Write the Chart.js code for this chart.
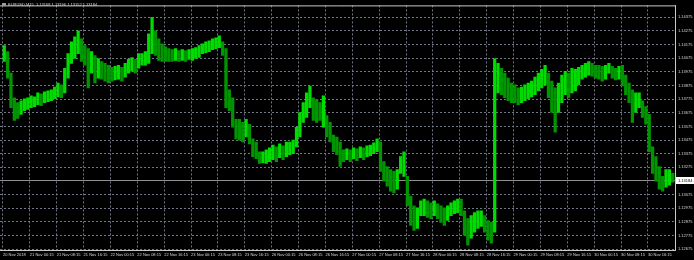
<!DOCTYPE html>
<html>
<head>
<meta charset="utf-8">
<title>EURUSD,M15</title>
<script src="https://cdn.jsdelivr.net/npm/chart.js@4.4.0/dist/chart.umd.min.js"></script>
<style>
  html, body { margin: 0; padding: 0; background: #000; overflow: hidden; }
  #wrap { width: 694px; height: 260px; }
</style>
</head>
<body>
<div id="wrap"><canvas id="chart" width="694" height="260"></canvas></div>
<script>
// EURUSD M15, 20-30 Nov 2018. One entry per hour (4 M15 bars), high/low.
const symbolTitle = "EURUSD,M15  1.13168 1.13196 1.13152 1.13184";
const lastClose = 1.13184;

// a time label every 32 bars (8 hours)
const timeLabels = [
  "20 Nov 2018", "21 Nov 00:15", "21 Nov 08:15", "21 Nov 16:15", "22 Nov 00:15",
  "22 Nov 08:15", "22 Nov 16:15", "23 Nov 00:15", "23 Nov 08:15", "23 Nov 16:15",
  "26 Nov 00:15", "26 Nov 08:15", "26 Nov 16:15", "27 Nov 00:15", "27 Nov 08:15",
  "27 Nov 16:15", "28 Nov 00:15", "28 Nov 08:15", "28 Nov 16:15", "29 Nov 00:15",
  "29 Nov 08:15", "29 Nov 16:15", "30 Nov 00:15", "30 Nov 08:15", "30 Nov 16:15"
];

const priceTicks = [
  1.12675, 1.12775, 1.12875, 1.12975, 1.13075, 1.13175, 1.13275, 1.13375, 1.13475,
  1.13575, 1.13675, 1.13775, 1.13875, 1.13975, 1.14075, 1.14175, 1.14275, 1.14375
];

const hourHighs = [
  1.14167, 1.14123, 1.13965, 1.13785, 1.13749, 1.13763, 1.13778, 1.13785, 1.13799, 1.13792,
  1.13821, 1.13814, 1.13828, 1.13835, 1.13843, 1.13864, 1.13893, 1.13879, 1.14001, 1.14109,
  1.14195, 1.14231, 1.14275, 1.14217, 1.14167, 1.14145, 1.14123, 1.14095, 1.14073, 1.14051,
  1.14037, 1.14023, 1.14008, 1.14015, 1.14023, 1.14008, 1.14037, 1.14066, 1.14080, 1.14066,
  1.14109, 1.14109, 1.14123, 1.14253, 1.14375, 1.14275, 1.14217, 1.14181, 1.14159, 1.14145,
  1.14138, 1.14145, 1.14131, 1.14138, 1.14131, 1.14138, 1.14145, 1.14152, 1.14167, 1.14181,
  1.14195, 1.14203, 1.14217, 1.14224, 1.14239, 1.14195, 1.14145, 1.13843, 1.13785, 1.13627,
  1.13627, 1.13605, 1.13627, 1.13591, 1.13483, 1.13461, 1.13389, 1.13389, 1.13403, 1.13418,
  1.13439, 1.13425, 1.13447, 1.13432, 1.13461, 1.13461, 1.13475, 1.13569, 1.13677, 1.13749,
  1.13821, 1.13871, 1.13785, 1.13771, 1.13749, 1.13799, 1.13655, 1.13605, 1.13511, 1.13497,
  1.13461, 1.13403, 1.13411, 1.13403, 1.13418, 1.13411, 1.13425, 1.13418, 1.13432, 1.13439,
  1.13454, 1.13483, 1.13461, 1.13317, 1.13281, 1.13259, 1.13245, 1.13259, 1.13353, 1.13389,
  1.13209, 1.13065, 1.12993, 1.12979, 1.13029, 1.13043, 1.13029, 1.13015, 1.13029, 1.13007,
  1.12993, 1.12979, 1.12993, 1.13015, 1.13029, 1.13043, 1.13043, 1.12957, 1.12899, 1.12921,
  1.12943, 1.12957, 1.12957, 1.12921, 1.12885, 1.12871, 1.14073, 1.14037, 1.14001, 1.13965,
  1.13929, 1.13893, 1.13879, 1.13857, 1.13864, 1.13879, 1.13893, 1.13907, 1.13936, 1.13965,
  1.13994, 1.14023, 1.13965, 1.13907, 1.13857, 1.13893, 1.13951, 1.13979, 1.13965, 1.14001,
  1.13994, 1.14008, 1.14023, 1.14037, 1.14051, 1.14037, 1.14023, 1.14023, 1.14015, 1.14023,
  1.14037, 1.14015, 1.14001, 1.14015, 1.14023, 1.13951, 1.13893, 1.13843, 1.13821, 1.13821,
  1.13763, 1.13720, 1.13663, 1.13425, 1.13353, 1.13281, 1.13209, 1.13259, 1.13259, 1.13231
];

const hourLows = [
  1.14051, 1.13929, 1.13713, 1.13619, 1.13634, 1.13663, 1.13691, 1.13699, 1.13713, 1.13720,
  1.13735, 1.13727, 1.13749, 1.13756, 1.13763, 1.13778, 1.13792, 1.13785, 1.13821, 1.13929,
  1.14037, 1.14073, 1.14109, 1.14051, 1.14023, 1.13857, 1.13965, 1.13893, 1.13929, 1.13922,
  1.13907, 1.13893, 1.13907, 1.13915, 1.13922, 1.13907, 1.13936, 1.13965, 1.13979, 1.13965,
  1.14001, 1.14023, 1.14023, 1.14037, 1.14109, 1.14095, 1.14059, 1.14051, 1.14051, 1.14051,
  1.14051, 1.14059, 1.14051, 1.14059, 1.14051, 1.14066, 1.14059, 1.14073, 1.14080, 1.14109,
  1.14116, 1.14123, 1.14138, 1.14145, 1.14152, 1.14095, 1.13713, 1.13691, 1.13569, 1.13483,
  1.13475, 1.13461, 1.13497, 1.13447, 1.13353, 1.13339, 1.13303, 1.13310, 1.13303, 1.13317,
  1.13331, 1.13317, 1.13346, 1.13331, 1.13353, 1.13367, 1.13375, 1.13425, 1.13497, 1.13605,
  1.13641, 1.13713, 1.13619, 1.13605, 1.13619, 1.13569, 1.13497, 1.13461, 1.13389, 1.13367,
  1.13281, 1.13317, 1.13331, 1.13317, 1.13339, 1.13324, 1.13346, 1.13331, 1.13353, 1.13360,
  1.13375, 1.13389, 1.13245, 1.13173, 1.13137, 1.13101, 1.13087, 1.13115, 1.13231, 1.13209,
  1.12993, 1.12849, 1.12813, 1.12827, 1.12921, 1.12921, 1.12907, 1.12899, 1.12921, 1.12899,
  1.12871, 1.12849, 1.12885, 1.12921, 1.12935, 1.12943, 1.12921, 1.12777, 1.12705, 1.12755,
  1.12799, 1.12827, 1.12842, 1.12799, 1.12741, 1.12719, 1.12799, 1.13821, 1.13807, 1.13785,
  1.13763, 1.13749, 1.13749, 1.13735, 1.13749, 1.13763, 1.13778, 1.13792, 1.13807, 1.13835,
  1.13857, 1.13879, 1.13785, 1.13677, 1.13533, 1.13677, 1.13749, 1.13807, 1.13785, 1.13821,
  1.13835, 1.13879, 1.13922, 1.13936, 1.13951, 1.13943, 1.13929, 1.13922, 1.13907, 1.13922,
  1.13965, 1.13929, 1.13915, 1.13922, 1.13871, 1.13807, 1.13749, 1.13605, 1.13677, 1.13713,
  1.13641, 1.13591, 1.13389, 1.13231, 1.13173, 1.13115, 1.13101, 1.13130, 1.13144, 1.13166
];

// MT4-ish colours
const upColor = "#00dc00";
const downColor = "#009600";
const gridColor = "#6f7785";
const frameColor = "#c8c8c8";
const textColor = "#d8d8d8";
const axisFont = { family: "'Liberation Sans', Arial, sans-serif", size: 4 };

// each hour sits in the middle of its 4 M15 bars
const bars = hourHighs.map((hi, i) => ({ x: i * 4 + 1.5, y: [hourLows[i], hi] }));
const barColors = hourHighs.map((hi, i) => {
  if (i === 0) return upColor;
  const mid = (hi + hourLows[i]) / 2;
  const prevMid = (hourHighs[i - 1] + hourLows[i - 1]) / 2;
  return mid >= prevMid ? upColor : downColor;
});

// bid line, price box, chart frame and symbol title
const terminalDecor = {
  id: "terminalDecor",
  beforeDatasetsDraw(chart) {
    const { ctx, chartArea: a, scales: { y } } = chart;
    const py = Math.round(y.getPixelForValue(lastClose)) + 0.5;
    ctx.save();
    ctx.strokeStyle = "#8e8e8e";
    ctx.lineWidth = 1;
    ctx.beginPath();
    ctx.moveTo(a.left, py);
    ctx.lineTo(a.right, py);
    ctx.stroke();
    ctx.restore();
  },
  afterDraw(chart) {
    const { ctx, chartArea: a, scales: { y } } = chart;
    const py = Math.round(y.getPixelForValue(lastClose));
    ctx.save();
    // top edge of the frame
    ctx.strokeStyle = frameColor;
    ctx.lineWidth = 1;
    ctx.beginPath();
    ctx.moveTo(a.left, a.top + 0.5);
    ctx.lineTo(a.right + 0.5, a.top + 0.5);
    ctx.stroke();
    // current price box on the axis
    ctx.fillStyle = "#ffffff";
    ctx.fillRect(a.right + 1, py - 3, chart.width - a.right, 7);
    ctx.fillStyle = "#000000";
    ctx.font = axisFont.size + "px " + axisFont.family;
    ctx.textBaseline = "middle";
    ctx.textAlign = "left";
    ctx.fillText(lastClose.toFixed(5), a.right + 3, py + 0.5);
    // symbol title, top left
    ctx.fillStyle = "#9a9a9a";
    ctx.fillRect(2, 3, 4, 3);
    ctx.fillStyle = textColor;
    ctx.fillText(symbolTitle, 8, 4.5);
    ctx.restore();
  }
};

new Chart(document.getElementById("chart").getContext("2d"), {
  type: "bar",
  data: {
    datasets: [{
      data: bars,
      backgroundColor: barColors,
      borderWidth: 0,
      barThickness: 2.6
    }]
  },
  options: {
    responsive: false,
    animation: false,
    events: [],
    layout: { padding: { top: 1, left: 0, right: 0, bottom: 0 } },
    plugins: {
      legend: { display: false },
      tooltip: { enabled: false }
    },
    scales: {
      x: {
        type: "linear",
        min: -3.57,
        max: 800.2,
        offset: false,
        bounds: "data",
        afterBuildTicks: (scale) => {
          scale.ticks = timeLabels.map((_, i) => ({ value: i * 32 }));
        },
        afterFit: (scale) => { scale.height = 10; },
        grid: { color: gridColor, drawTicks: false, offset: false },
        border: { display: true, color: frameColor, dash: [2, 2] },
        ticks: {
          autoSkip: false,
          maxRotation: 0,
          minRotation: 0,
          align: "start",
          padding: 2,
          color: textColor,
          font: axisFont,
          callback: (value, index) => timeLabels[index]
        }
      },
      y: {
        type: "linear",
        position: "right",
        min: 1.12669,
        max: 1.14462,
        bounds: "data",
        afterBuildTicks: (scale) => {
          scale.ticks = priceTicks.map((v) => ({ value: v }));
        },
        afterFit: (scale) => { scale.width = 19; },
        grid: { color: gridColor, drawTicks: false },
        border: { display: true, color: frameColor, dash: [2, 2] },
        ticks: {
          padding: 3,
          color: textColor,
          font: axisFont,
          callback: (value) => Number(value).toFixed(5)
        }
      }
    }
  },
  plugins: [terminalDecor]
});
</script>
</body>
</html>
